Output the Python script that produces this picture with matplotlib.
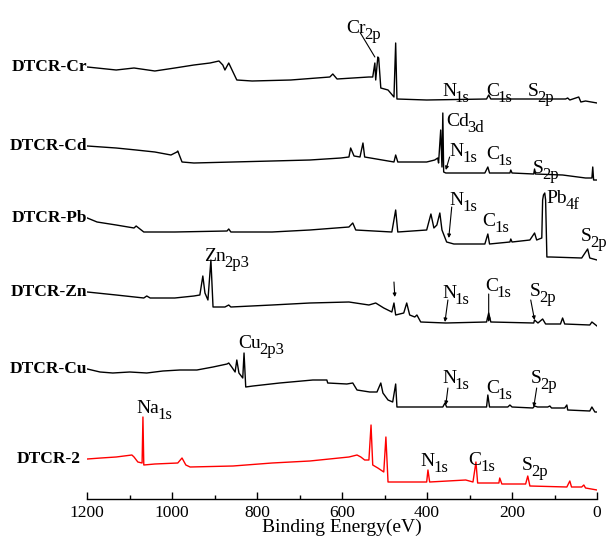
import numpy as np
import matplotlib.pyplot as plt

plt.rcParams['font.family'] = ['Liberation Serif', 'DejaVu Serif']

# survey spectra: binding energy (eV) and counts (a.u.) above each trace's baseline
cr_energy = [1200, 1132, 1090, 1041, 994, 949, 911, 890, 881, 876, 867, 857, 848, 812, 721, 629, 622, 612,
             537, 528, 523, 521, 516, 514, 509, 492, 478, 474, 471, 401, 260, 255, 250, 74, 69, 64, 43, 38, 27, 0]
cr_counts = [33, 30, 32, 29, 32, 35, 37, 39, 35, 30, 37, 28, 20, 19, 20, 23, 26, 21,
             23, 23, 37, 20, 43, 42, 12, 10, 3, 57, 1, 0, 1, 5, 1, 1, 2, 0, 3, -2, -1, -3]

cd_energy = [1200, 1132, 1085, 1041, 1003, 989, 987, 977, 949, 857, 765, 676, 603, 584, 580, 572, 558, 551, 547,
             478, 474, 469, 401, 382, 375, 373, 368, 365, 363, 361, 356, 264, 257, 253, 205, 203, 200,
             149, 147, 145, 81, 45, 27, 12, 10, 8, 0]
cd_counts = [27, 25, 23, 21, 18, 21, 22, 11, 10, 11, 12, 13, 15, 16, 25, 17, 16, 30, 16,
             11, 18, 11, 11, 13, 15, 10, 43, 6, 60, 1, 0, 0, 6, 0, 0, 3, 0,
             -1, 4, -1, -2, -4, -5, -5, 6, -7, -7]

pb_energy = [1200, 1177, 1132, 1090, 1085, 1067, 994, 871, 867, 862, 765, 676, 584, 575, 568, 483, 474, 469, 401,
             391, 384, 377, 370, 365, 354, 337, 264, 257, 253, 205, 203, 200, 158, 147, 142, 130,
             128, 126, 123, 121, 118, 109, 36, 22, 17, 0]
pb_counts = [40, 36, 33, 30, 32, 26, 26, 27, 29, 26, 26, 28, 31, 35, 28, 26, 48, 26, 28,
             44, 30, 33, 45, 28, 16, 14, 14, 24, 14, 16, 19, 16, 18, 25, 18, 20,
             58, 63, 65, 58, 1, 1, 0, 9, 0, -2]

zn_energy = [1200, 1132, 1067, 1060, 1052, 994, 949, 935, 928, 923, 916, 909, 904, 876, 867, 862, 765, 676, 584,
             537, 521, 502, 483, 478, 474, 455, 448, 441, 429, 424, 415, 356, 260, 255, 250,
             149, 147, 139, 128, 121, 86, 81, 76, 17, 12, 0]
zn_counts = [31, 28, 25, 27, 25, 25, 27, 28, 47, 30, 23, 63, 16, 16, 18, 16, 18, 20, 21,
             18, 20, 15, 11, 20, 8, 10, 20, 8, 6, 8, 1, 0, 1, 10, 1,
             0, 3, 0, 4, -1, -1, 5, -1, -2, 1, -3]

cu_energy = [1200, 1170, 1140, 1100, 1060, 1022, 982, 942, 904, 871, 867, 860, 852, 848, 843, 834, 831, 827,
             810, 747, 669, 636, 634, 589, 575, 565, 535, 518, 509, 504, 492, 481, 474, 471,
             363, 358, 354, 260, 257, 253, 210, 205, 200, 151, 147, 140, 116, 111, 107, 76, 71, 69, 17, 12, 5, 0]
cu_counts = [38, 35, 34, 35, 34, 36, 37, 37, 40, 43, 44, 40, 35, 47, 34, 29, 54, 20,
             21, 24, 27, 27, 24, 23, 24, 17, 15, 15, 24, 14, 7, 5, 23, 0,
             0, 4, 0, 0, 12, 0, 0, 2, 0, -1, 1, 0, 0, 1, -1, -1, 2, -3, -4, 0, -5, -5]

dtcr2_energy = [1200, 1168, 1132, 1095, 1090, 1081, 1071, 1069, 1067, 1041, 987, 977, 968, 958, 857, 765, 676,
                584, 565, 556, 547, 537, 532, 528, 516, 502, 497, 492, 401, 398, 394, 309, 292, 285, 281,
                231, 229, 224, 168, 163, 158, 71, 64, 60, 36, 31, 27, 0]
dtcr2_counts = [24, 25, 26, 28, 26, 21, 20, 66, 18, 19, 20, 25, 18, 16, 17, 20, 22,
                26, 28, 26, 23, 23, 58, 18, 15, 11, 46, 1, 1, 13, 1, 3, 1, 21, 0,
                0, 5, -1, -1, 7, -3, -4, 2, -4, -4, -2, -5, -7]

samples = ['DTCR-Cr', 'DTCR-Cd', 'DTCR-Pb', 'DTCR-Zn', 'DTCR-Cu', 'DTCR-2']
energies = [cr_energy, cd_energy, pb_energy, zn_energy, cu_energy, dtcr2_energy]
counts = [cr_counts, cd_counts, pb_counts, zn_counts, cu_counts, dtcr2_counts]
offsets = [399, 326, 241, 176, 92, 16]
colors = ['black', 'black', 'black', 'black', 'black', '#ff0000']

# peak labels: (element, subscript, energy, height)
peak_labels = [
    ('Cr', '2p', 590, 479),
    ('N', '1s', 365, 416), ('C', '1s', 260, 416), ('S', '2p', 163, 416),
    ('Cd', '3d', 356, 386),
    ('N', '1s', 347, 356), ('C', '1s', 260, 353), ('S', '2p', 151, 339),
    ('N', '1s', 347, 307), ('Pb', '4f', 118, 309),
    ('C', '1s', 269, 286), ('S', '2p', 38, 271),
    ('Zn', '2p3', 925, 251),
    ('N', '1s', 365, 214), ('C', '1s', 264, 221), ('S', '2p', 158, 216),
    ('Cu', '2p3', 845, 164),
    ('N', '1s', 365, 129), ('C', '1s', 260, 119), ('S', '2p', 156, 129),
    ('Na', '1s', 1085, 99),
    ('N', '1s', 415, 46), ('C', '1s', 302, 47), ('S', '2p', 177, 42),
]

# pointers: (tail energy, tail height, tip energy, tip height, head)
pointers = [
    (557, 466, 523, 442, False),
    (347, 342, 356, 329, True),
    (342, 292, 349, 261, True),
    (478, 217, 476, 202, True),
    (351, 199, 358, 177, True),
    (255, 205, 255, 177, True),
    (156, 199, 147, 179, True),
    (351, 111, 356, 94, True),
    (142, 111, 149, 92, True),
]

fig = plt.figure(figsize=(6.08, 5.41), dpi=100)
ax = fig.add_axes([87.3 / 608, 1 - 499 / 541, (597 - 87.3) / 608, 499 / 541])

for name, e, c, off, col in zip(samples, energies, counts, offsets, colors):
    y = np.array(c) + off
    ax.plot(e, y, color=col, lw=1.0)
    xl = 1200 if name != 'DTCR-2' else 1216
    ax.text(xl, y[0], name, ha='right', va='center', fontsize=12.5,
            fontweight='bold', clip_on=False)

for el, sub, e, h in peak_labels:
    t = ax.text(e, h, el, ha='left', va='top', fontsize=14, clip_on=False)
    ax.annotate(sub, xy=(1, 0), xycoords=t, xytext=(-1.2, -1.2),
                textcoords='offset points', ha='left', va='baseline',
                fontsize=12, annotation_clip=False)

for x0, y0, x1, y1, head in pointers:
    style = '-|>' if head else '-'
    ax.annotate('', xy=(x1, y1), xytext=(x0, y0),
                arrowprops=dict(arrowstyle=style, color='black', lw=0.8,
                                mutation_scale=5, shrinkA=0, shrinkB=0))

ax.set_xlim(1200, 0)
ax.set_ylim(0, 499)
ax.set_xticks(np.arange(1200, -1, -200))
ax.set_xticks(np.arange(1100, 0, -200), minor=True)
ax.tick_params(axis='x', which='major', direction='in', length=5, width=1, labelsize=12.5, pad=4)
ax.tick_params(axis='x', which='minor', direction='in', length=3, width=1)
ax.set_yticks([])
for s in ['left', 'right', 'top']:
    ax.spines[s].set_visible(False)
ax.spines['bottom'].set_linewidth(1)
ax.set_xlabel('Binding Energy(eV)', fontsize=14, labelpad=-1)
ax.patch.set_alpha(0)

fig.savefig('out.png', dpi=100)
